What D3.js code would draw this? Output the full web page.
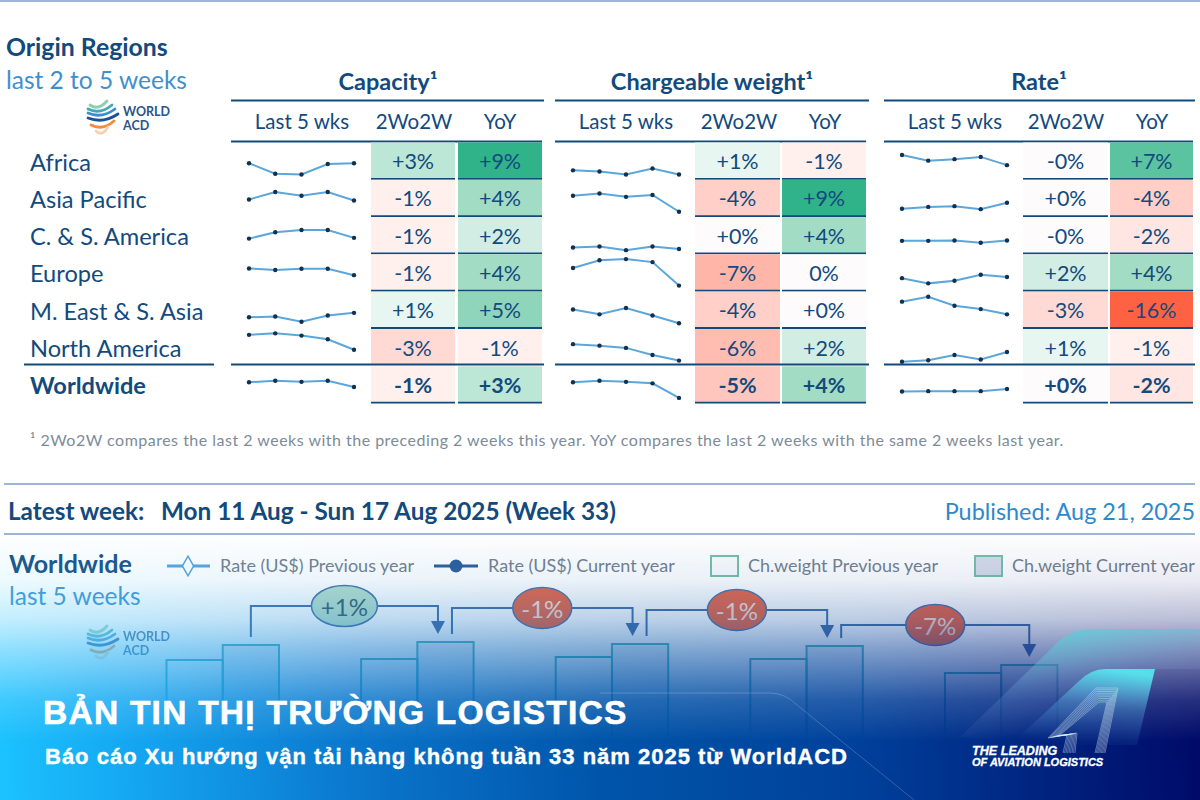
<!DOCTYPE html>
<html>
<head>
<meta charset="utf-8">
<style>
    html, body { margin: 0; padding: 0; background: #fff; }
    svg { display: block; }
    text { font-family: Lato, sans-serif; }
    .banner { font-family: "Liberation Sans", sans-serif; font-weight: bold; fill: #fff; stroke: #fff; }
</style>
<script src="https://d3js.org/d3.v7.min.js"></script>
</head>
<body>
<svg width="1200" height="800"></svg>
<script>
var regions = ["Africa", "Asia Pacific", "C. & S. America", "Europe", "M. East & S. Asia", "North America", "Worldwide"];
var weeks = ["W29", "W30", "W31", "W32", "W33"];

// sparkline levels (0 = bottom of the row, 100 = top)
var capacitySpark = [[43,15,13,41,43],[46,66,56,66,43],[41,58,64,64,43],[61,57,60,60,43],[30,32,18,35,42],[83,87,81,71,43],[56,60,57,60,43]];
var weightSpark = [[24,21,13,29,13],[56,62,53,58,13],[17,20,10,20,13],[62,83,86,78,15],[51,38,55,35,14],[58,54,48,29,14],[56,60,57,53,14]];
var rateSpark = [[65,50,54,60,38],[21,26,28,20,37],[35,35,36,30,36],[35,21,28,44,38],[72,85,61,52,38],[11,15,29,17,37],[31,32,32,32,38]];

var capacity2w = ["+3%","-1%","-1%","-1%","+1%","-3%","-1%"];
var capacityYoy = ["+9%","+4%","+2%","+4%","+5%","-1%","+3%"];
var weight2w = ["+1%","-4%","+0%","-7%","-4%","-6%","-5%"];
var weightYoy = ["-1%","+9%","+4%","0%","+0%","+2%","+4%"];
var rate2w = ["-0%","+0%","-0%","+2%","-3%","+1%","+0%"];
var rateYoy = ["+7%","-4%","-2%","+4%","-16%","-1%","-2%"];

// chargeable weight bars of the lower chart (index)
var weightPrev = [100, 101, 103, 101, 87];
var weightCurr = [115, 118, 116, 114, 95];
var rateChange = ["+1%", "-1%", "-1%", "-7%"];
var bracketLevel = [154, 152, 150, 135];

var navy = "#124a7e", steel = "#3f8fcf", rule = "#134a7c";
var svg = d3.select("svg");
var defs = svg.append("defs");

var colour = d3.scaleLinear()
    .domain([-16, -7, -6, -4, -3, -2, -1, 0, 1, 2, 3, 4, 5, 7, 9])
    .range(["#ff6242", "#ffb5a8", "#ffbdb2", "#ffcfc8", "#ffd9d3", "#ffe6e2", "#fff0ed", "#fdfbfc", "#e8f6f1", "#d2eee4", "#bce6d6", "#a2dcc5", "#8fd5bb", "#5cc3a0", "#30b389"]);

var rowBand = d3.scaleBand().domain(regions).range([142, 403.1]);
var level = d3.scaleLinear().domain([0, 100]).range([rowBand.bandwidth(), 0]);

function txt(x, y, s, size, fill, weight, anchor) {
    return svg.append("text").attr("x", x).attr("y", y)
        .attr("dominant-baseline", "central")
        .attr("font-size", size).attr("fill", fill)
        .attr("font-weight", weight || "normal")
        .attr("text-anchor", anchor || "start").text(s);
}

function hline(x1, x2, y, c, w) {
    svg.append("line").attr("x1", x1).attr("x2", x2).attr("y1", y).attr("y2", y)
        .attr("stroke", c).attr("stroke-width", w);
}

function logo(dx, dy, op) {
    var g = svg.append("g").attr("transform", "translate(" + dx + "," + dy + ")").attr("opacity", op);
    var bands = [["#8fcdb0", 90, 107, 106], ["#45a8b8", 88, 112, 110], ["#3a8fd0", 88, 115, 114], ["#1f4f95", 88, 118, 119], ["#f08a3c", 91, 114, 126], ["#f8d0b0", 96, 108, 132]];
    bands.forEach(function(b) {
        g.append("path").attr("d", "M" + b[1] + " " + (b[3] - 1) + " Q" + ((b[1] + b[2]) / 2) + " " + (b[3] + 5) + " " + b[2] + " " + (b[3] - 5))
            .attr("fill", "none").attr("stroke", b[0]).attr("stroke-width", 2.8).attr("stroke-linecap", "round");
    });
    g.append("text").attr("x", 123).attr("y", 115.5).attr("font-size", 12.5).attr("font-weight", "bold").attr("fill", "#2a5488").text("WORLD");
    g.append("text").attr("x", 123).attr("y", 129.5).attr("font-size", 12.5).attr("font-weight", "bold").attr("fill", "#2a5488").text("ACD");
}

// top block
hline(0, 1200, 1, "#7f9ccb", 1.5);
txt(6, 46.5, "Origin Regions", 24.8, navy, "bold");
txt(6, 79, "last 2 to 5 weeks", 24.5, steel);
logo(0, 0, 1);

regions.forEach(function(r, i) {
    txt(30, rowBand(r) + 19.5, r, 23.6, navy, i == 6 ? "bold" : "normal");
});
hline(24, 214, 364.5, rule, 2.2);

var panels = [
    { name: "Capacity¹", cx: 388, rule: [231, 544], spark: capacitySpark, sx: [249, 354], two: capacity2w, yoy: capacityYoy, c2: [371, 455], c3: [458, 542], head: [302, 414, 500] },
    { name: "Chargeable weight¹", cx: 712, rule: [555, 869], spark: weightSpark, sx: [573, 679], two: weight2w, yoy: weightYoy, c2: [695, 780], c3: [782, 866], head: [626, 739, 825] },
    { name: "Rate¹", cx: 1039, rule: [884, 1195], spark: rateSpark, sx: [902, 1007], two: rate2w, yoy: rateYoy, c2: [1023, 1108], c3: [1110, 1193], head: [955, 1066, 1152] }
];

var sparkLine = d3.line();

panels.forEach(function(p) {
    txt(p.cx, 81, p.name, 23.5, navy, "bold", "middle");
    hline(p.rule[0], p.rule[1], 100.5, rule, 2);
    hline(p.rule[0], p.c3[1], 141.5, rule, 2);
    ["Last 5 wks", "2Wo2W", "YoY"].forEach(function(h, i) {
        txt(p.head[i], 121, h, 20.5, navy, "normal", "middle");
    });

    var sx = d3.scalePoint().domain(weeks).range(p.sx);
    regions.forEach(function(r, i) {
        var top = rowBand(r);
        var pts = p.spark[i].map(function(v, k) { return [sx(weeks[k]), top + level(v)]; });
        svg.append("path").attr("d", sparkLine(pts)).attr("fill", "none")
            .attr("stroke", "#5ba6da").attr("stroke-width", 2);
        svg.selectAll(null).data(pts).enter().append("circle")
            .attr("cx", function(d) { return d[0]; }).attr("cy", function(d) { return d[1]; })
            .attr("r", 2.2).attr("fill", "#12304f");

        [[p.two, p.c2], [p.yoy, p.c3]].forEach(function(c) {
            var val = c[0][i];
            svg.append("rect").attr("x", c[1][0]).attr("y", top + 0.5)
                .attr("width", c[1][1] - c[1][0]).attr("height", rowBand.bandwidth() - 1)
                .attr("fill", colour(parseFloat(val)));
            txt((c[1][0] + c[1][1]) / 2, top + 19, val, 21.5, navy, i == 6 ? "bold" : "normal", "middle");
            if (i != 5) hline(c[1][0], c[1][1], top + rowBand.bandwidth() - 0.5, rule, 1.8);
        });
    });
    hline(p.rule[0], p.rule[1], 364.5, rule, 2.2);
});

txt(30, 439.5, "¹ 2Wo2W compares the last 2 weeks with the preceding 2 weeks this year. YoY compares the last 2 weeks with the same 2 weeks last year.", 16, "#7d8b99")
    .attr("letter-spacing", 0.49);

// lower block
hline(4, 1195, 484, "#7f9ccb", 1.5);
hline(4, 1195, 534, "#7f9ccb", 1.5);
txt(8, 510, "Latest week:", 24.3, navy, "bold");
txt(161, 510, "Mon 11 Aug - Sun 17 Aug 2025 (Week 33)", 24.3, navy, "bold");
txt(1195, 510.5, "Published: Aug 21, 2025", 23.4, "#2f88ca", "normal", "end");

txt(9, 562.5, "Worldwide", 25, "#1d5488", "bold");
txt(9, 595, "last 5 weeks", 24.5, "#4a9ad6");
logo(0, 525, 0.7);

hline(167, 210, 566, "#5aa5dc", 3);
svg.append("path").attr("d", d3.symbol(d3.symbolDiamond, 110)()).attr("transform", "translate(188,566)")
    .attr("fill", "#fff").attr("stroke", "#5aa5dc").attr("stroke-width", 1.5);
txt(220, 565, "Rate (US$) Previous year", 18, "#75828f");
hline(434, 478, 566, "#2f5f9c", 3);
svg.append("circle").attr("cx", 456).attr("cy", 566).attr("r", 6.5).attr("fill", "#2f5f9c");
txt(488, 565, "Rate (US$) Current year", 18, "#75828f");
svg.append("rect").attr("x", 711).attr("y", 556).attr("width", 27).attr("height", 20)
    .attr("fill", "#fbfcfd").attr("stroke", "#78c0a8").attr("stroke-width", 2);
txt(748, 565, "Ch.weight Previous year", 18, "#75828f");
svg.append("rect").attr("x", 975).attr("y", 556).attr("width", 27).attr("height", 20)
    .attr("fill", "#d6dde9").attr("stroke", "#78c0a8").attr("stroke-width", 2);
txt(1012, 565, "Ch.weight Current year", 18, "#75828f");

var groupX = d3.scaleBand().domain(weeks).range([166.5, 1057.4]).paddingInner(0.422);
var barX = d3.scaleBand().domain(["prev", "curr"]).range([0, groupX.bandwidth()]);
var barY = d3.scaleLinear().domain([0, 120]).range([760, 640]);

[["prev", weightPrev], ["curr", weightCurr]].forEach(function(s) {
    svg.selectAll(null).data(s[1]).enter().append("rect")
        .attr("x", function(d, i) { return groupX(weeks[i]) + barX(s[0]); })
        .attr("y", function(d) { return barY(d); })
        .attr("width", barX.bandwidth())
        .attr("height", function(d) { return barY(0) - barY(d); })
        .attr("fill", s[0] == "prev" ? "none" : "#2f6fb5").attr("fill-opacity", s[0] == "prev" ? 1 : 0.1)
        .attr("stroke", "#58b8bc").attr("stroke-width", 2);
});

rateChange.forEach(function(lab, i) {
    var c0 = groupX(weeks[i]) + barX("curr") + barX.bandwidth() / 2;
    var c1 = groupX(weeks[i + 1]) + barX("curr") + barX.bandwidth() / 2;
    var x0 = i == 0 ? c0 : c0 + 6.5;
    var x1 = i == rateChange.length - 1 ? c1 : c1 - 7.5;
    var ly = barY(bracketLevel[i]);
    var y0 = barY(weightCurr[i]) - 8;
    var tip = barY(weightCurr[i + 1]) - 8;
    svg.append("path").attr("d", d3.line()([[x0, y0], [x0, ly], [x1, ly], [x1, tip - 10]]))
        .attr("fill", "none").attr("stroke", "#4a75ad").attr("stroke-width", 2);
    svg.append("path").attr("d", d3.line()([[x1 - 7, tip - 13], [x1 + 7, tip - 13], [x1, tip]]) + "Z").attr("fill", "#4a75ad");
    var ex = (x0 + x1) / 2, up = lab.charAt(0) == "+";
    svg.append("ellipse").attr("cx", ex).attr("cy", ly).attr("rx", up ? 33 : 29.5).attr("ry", 20.5)
        .attr("fill", up ? "#b8dfcc" : "#ea6a4c").attr("stroke", "#4f78ad").attr("stroke-width", 1.5);
    txt(ex, ly, lab, 24, up ? "#3f6670" : "#f8e2da", "normal", "middle");
});

// banner wash over the lower block
var wash = defs.append("linearGradient").attr("id", "wash")
    .attr("gradientUnits", "userSpaceOnUse").attr("x1", 0).attr("x2", 1200).attr("y1", 800).attr("y2", 760);
[[0, "#1cc2ff"], [0.12, "#14a4f0"], [0.3, "#0a76cc"], [0.5, "#0055aa"], [0.72, "#00409a"], [1, "#000a68"]].forEach(function(s) {
    wash.append("stop").attr("offset", s[0]).attr("stop-color", s[1]);
});
var fade = defs.append("linearGradient").attr("id", "fade")
    .attr("gradientUnits", "userSpaceOnUse").attr("x1", 0).attr("x2", 0).attr("y1", 530).attr("y2", 800);
[[0, 0], [0.185, 0.08], [0.333, 0.27], [0.444, 0.5], [0.63, 0.85], [0.78, 1], [1, 1]].forEach(function(s) {
    fade.append("stop").attr("offset", s[0]).attr("stop-color", "#fff").attr("stop-opacity", s[1]);
});
defs.append("mask").attr("id", "fadeMask").attr("maskUnits", "userSpaceOnUse")
    .attr("x", 0).attr("y", 0).attr("width", 1200).attr("height", 800)
    .append("rect").attr("x", 0).attr("y", 530).attr("width", 1200).attr("height", 270).attr("fill", "url(#fade)");
svg.append("rect").attr("x", 0).attr("y", 530).attr("width", 1200).attr("height", 270)
    .attr("fill", "url(#wash)").attr("mask", "url(#fadeMask)");

// banner decoration
svg.append("path").attr("d", "M600 693 L770 693 Q785 693 797 705 L914 800")
    .attr("fill", "none").attr("stroke", "#fff").attr("stroke-opacity", 0.2).attr("stroke-width", 1);

var tail = defs.append("linearGradient").attr("id", "tail").attr("x1", 0.6).attr("x2", 0.35).attr("y1", 0).attr("y2", 1);
tail.append("stop").attr("offset", 0).attr("stop-color", "#55e4ee").attr("stop-opacity", 0.95);
tail.append("stop").attr("offset", 0.45).attr("stop-color", "#5aa8dc").attr("stop-opacity", 0.4);
tail.append("stop").attr("offset", 1).attr("stop-color", "#4a90d8").attr("stop-opacity", 0);
var tailBig = defs.append("linearGradient").attr("id", "tailBig").attr("x1", 0.45).attr("x2", 0.75).attr("y1", 0).attr("y2", 0.75);
tailBig.append("stop").attr("offset", 0).attr("stop-color", "#50d4d8").attr("stop-opacity", 0.75);
tailBig.append("stop").attr("offset", 0.5).attr("stop-color", "#7aa8d8").attr("stop-opacity", 0.25);
tailBig.append("stop").attr("offset", 1).attr("stop-color", "#8a90c8").attr("stop-opacity", 0);

svg.append("path").attr("d", "M960 737 L1050 650 Q1068 629 1092 629 L1200 629 L1200 669 L1155 669 L1137 743 L1040 743 Z").attr("fill", "url(#tailBig)");
svg.append("path").attr("d", "M1010 745 L1078 682 Q1090 669 1106 669 L1155 669 L1137 745 Z").attr("fill", "url(#tail)");
d3.range(0, 1.01, 0.125).forEach(function(s) {
    var right = 1107 + 11 * s, topY = 702 - 14 * s, left = 1099 - 3 * s;
    var pts = [[1095 + 10 * s, 753], [right, topY], [left, topY], [1060 - 12 * s, 735 + 3 * s], [1067 + 10 * s, 735 - 2 * s], [1063 + 12 * s, 753]];
    svg.append("path").attr("d", d3.line()(pts))
        .attr("fill", "none").attr("stroke", "#e6f6fb").attr("stroke-opacity", 0.55).attr("stroke-width", 0.7);
});

svg.append("text").attr("class", "banner").attr("x", 43).attr("y", 724).attr("font-size", 33.5).attr("letter-spacing", 1.25).attr("stroke-width", 0.6)
    .text("BẢN TIN THỊ TRƯỜNG LOGISTICS");
svg.append("text").attr("class", "banner").attr("x", 45).attr("y", 764).attr("font-size", 22).attr("letter-spacing", 1).attr("stroke-width", 0.4)
    .text("Báo cáo Xu hướng vận tải hàng không tuần 33 năm 2025 từ WorldACD");
svg.append("text").attr("class", "banner").attr("x", 972).attr("y", 754.5).attr("font-size", 12.6).attr("font-style", "italic").attr("stroke-width", 0.3)
    .text("THE LEADING");
svg.append("text").attr("class", "banner").attr("x", 972).attr("y", 766).attr("font-size", 11).attr("font-style", "italic").attr("stroke-width", 0.3)
    .text("OF AVIATION LOGISTICS");
</script>
</body>
</html>
